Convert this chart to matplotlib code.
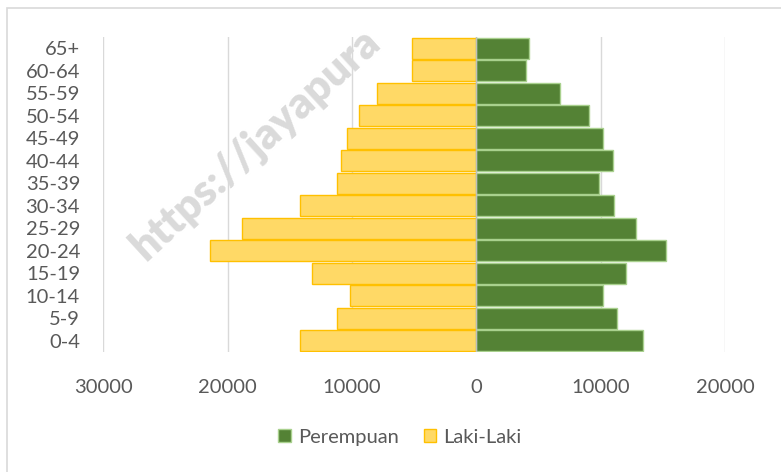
import matplotlib.pyplot as plt
from matplotlib.patches import Rectangle, Patch
from matplotlib.ticker import FuncFormatter

plt.rcParams["font.family"] = ["Lato", "DejaVu Sans"]

# Kelompok umur (bawah ke atas)
umur = ["0-4", "5-9", "10-14", "15-19", "20-24", "25-29", "30-34",
        "35-39", "40-44", "45-49", "50-54", "55-59", "60-64", "65+"]

# Jumlah penduduk
laki = [14200, 11200, 10200, 13200, 21400, 18800, 14200,
        11200, 10900, 10400, 9400, 8000, 5200, 5200]
perempuan = [13400, 11250, 10150, 12000, 15200, 12800, 11050,
             9850, 11000, 10200, 9050, 6700, 3950, 4200]

grey = "#595959"
green = "#548235"
yellow = "#FFD966"
fs = 14.5

fig = plt.figure(figsize=(7.81, 4.72), dpi=100)
ax = fig.add_axes([0.1319, 0.254, 0.797, 0.668])

y = range(len(umur))
ax.barh(y, [-v for v in laki], height=0.93, color=yellow,
        edgecolor="#FFC000", linewidth=1, zorder=3)
ax.barh(y, perempuan, height=0.93, color=green,
        edgecolor="#A9D18E", linewidth=1, zorder=3)

ax.set_xlim(-30000, 20000)
ax.set_ylim(-0.5, len(umur) - 0.5)
ax.set_xticks([-30000, -20000, -10000, 0, 10000, 20000])
ax.xaxis.set_major_formatter(FuncFormatter(lambda v, p: f"{abs(int(v))}"))
ax.set_yticks(list(y))
ax.set_yticklabels(umur)

ax.grid(axis="x", color="#D9D9D9", linewidth=1, zorder=0)
ax.axvline(0, color="#BFBFBF", linewidth=1, zorder=4)
for s in ax.spines.values():
    s.set_visible(False)
ax.tick_params(axis="both", length=0, colors=grey, labelsize=fs)
ax.tick_params(axis="x", pad=19)
ax.tick_params(axis="y", pad=16.5)

# watermark
fig.text(0.158, 0.435, "https://jayapura", rotation=42.5,
         fontsize=31, fontweight="heavy", color="#DADADA",
         ha="left", va="bottom", zorder=10)

handles = [Patch(facecolor=green, edgecolor="#A9D18E", label="Perempuan"),
           Patch(facecolor=yellow, edgecolor="#FFC000", label="Laki-Laki")]
fig.legend(handles=handles, loc="center", bbox_to_anchor=(0.512, 0.074),
           ncol=2, frameon=False, fontsize=fs, labelcolor=grey,
           handlelength=0.63, handleheight=0.63, handletextpad=0.35,
           columnspacing=1.25)

# chart border (only top and left edges show)
fig.patches.append(Rectangle((7 / 781, -0.1), 1.2, 1 - 8 / 472 + 0.1,
                             transform=fig.transFigure, fill=False,
                             edgecolor="#D9D9D9", linewidth=1.2))

fig.savefig("out.png", dpi=100)
